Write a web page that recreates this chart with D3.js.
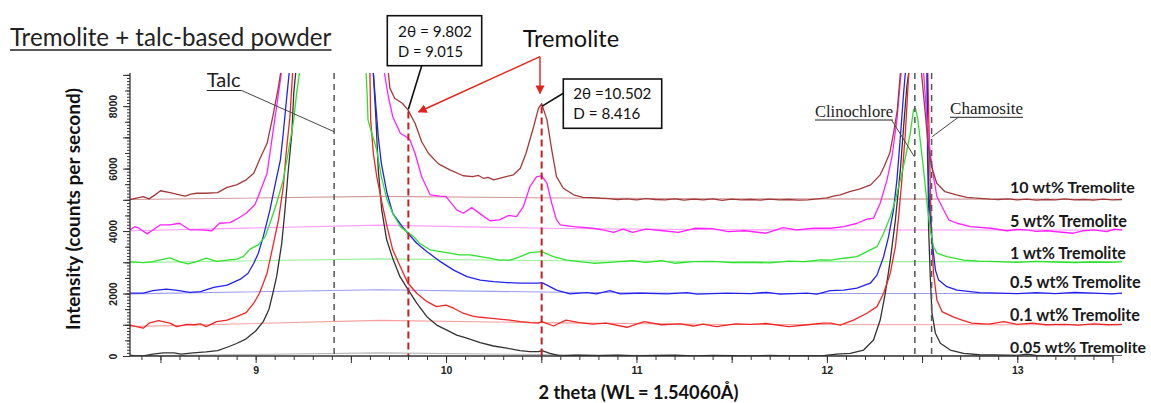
<!DOCTYPE html>
<html><head><meta charset="utf-8">
<script src="https://cdn.jsdelivr.net/npm/d3@7"></script>
<style>body{margin:0;background:#fff}svg{display:block}</style>
</head><body><svg id="c" width="1151" height="403"></svg>
<script>
// ---------------- DATA ----------------
const seriesLabels = ["10 wt% Tremolite","5 wt% Tremolite","1 wt% Tremolite","0.5 wt% Tremolite","0.1 wt% Tremolite","0.05 wt% Tremolite"];
const tw10 = [[8.34,5010],[8.38,5060],[8.41,5100],[8.44,5030],[8.47,5150],[8.50,5290],[8.55,5230],[8.60,5160],[8.63,5120],[8.66,5180],[8.69,5210],[8.74,5210],[8.80,5230],[8.85,5400],[8.90,5480],[8.95,5640],[8.99,5850],[9.02,6280],[9.06,6810],[9.09,7660],[9.12,8630],[9.15,9800],[9.66,9800],[9.697,9060],[9.705,8575],[9.73,8250],[9.77,8090],[9.80,7880],[9.837,7450],[9.872,6860],[9.907,6490],[9.96,6150],[10.02,5960],[10.09,5770],[10.14,5740],[10.17,5780],[10.196,5690],[10.22,5720],[10.25,5640],[10.30,5720],[10.354,5800],[10.39,6010],[10.42,6490],[10.46,7340],[10.485,7930],[10.502,8080],[10.53,7560],[10.555,6600],[10.58,5740],[10.616,5370],[10.67,5160],[10.72,5080],[10.77,5070],[10.81,5050],[10.85,5040],[10.90,5010],[10.95,5030],[11.00,5000],[11.05,5040],[11.10,5010],[11.15,5000],[11.20,5030],[11.25,4990],[11.30,5020],[11.35,5000],[11.40,5030],[11.45,4980],[11.50,5020],[11.55,5000],[11.60,5010],[11.65,4990],[11.70,5020],[11.75,5000],[11.80,5010],[11.85,4990],[11.90,5000],[11.95,5030],[12.00,5060],[12.035,5120],[12.07,5160],[12.12,5260],[12.17,5340],[12.23,5480],[12.28,5800],[12.30,6060],[12.33,6490],[12.35,7130],[12.37,7880],[12.386,9060],[12.40,9800],[12.49,9800],[12.497,9060],[12.515,7880],[12.533,6700],[12.55,6060],[12.577,5530],[12.62,5260],[12.68,5160],[12.735,5080],[12.77,5060],[12.82,5040],[12.86,5020],[12.90,5010],[12.95,5030],[13.00,5000],[13.05,5020],[13.10,4990],[13.15,5010],[13.20,5000],[13.25,5030],[13.30,5000],[13.35,5010],[13.40,4990],[13.45,5020],[13.50,5000],[13.55,5010]];
const tw5 = [[8.34,4035],[8.365,4140],[8.385,4100],[8.43,3910],[8.46,4035],[8.50,4200],[8.55,4200],[8.60,4250],[8.655,4035],[8.71,4035],[8.77,4010],[8.81,4250],[8.865,4270],[8.90,4380],[8.95,4570],[8.996,4840],[9.02,5210],[9.06,5850],[9.08,6700],[9.10,7560],[9.12,8410],[9.135,9060],[9.15,9800],[9.66,9800],[9.676,9060],[9.697,8300],[9.72,7660],[9.76,7130],[9.79,7020],[9.81,6920],[9.837,6490],[9.872,5740],[9.916,5160],[9.968,5120],[10.0,5100],[10.056,4680],[10.09,4570],[10.135,4750],[10.18,4550],[10.23,4330],[10.28,4360],[10.33,4500],[10.37,4460],[10.406,4780],[10.44,5420],[10.476,5740],[10.503,5770],[10.53,5530],[10.555,4890],[10.58,4360],[10.60,4200],[10.67,4140],[10.77,4090],[10.83,4030],[10.88,3960],[10.93,4060],[10.98,3960],[11.05,4060],[11.14,4010],[11.22,3960],[11.31,4090],[11.40,4080],[11.48,3980],[11.57,4010],[11.68,3930],[11.77,4110],[11.84,4035],[11.93,4090],[12.02,4090],[12.09,4140],[12.16,4250],[12.21,4380],[12.245,4410],[12.28,4890],[12.316,5640],[12.342,6380],[12.368,7560],[12.386,8840],[12.39,9060],[12.40,9800],[12.50,9800],[12.508,9060],[12.526,7560],[12.543,6490],[12.56,5740],[12.578,5100],[12.605,4780],[12.64,4360],[12.684,4250],[12.754,4140],[12.86,4090],[12.946,4010],[13.0,4050],[13.05,4035],[13.1,3990],[13.157,4010],[13.22,3970],[13.296,3930],[13.35,4010],[13.4,4035],[13.47,3980],[13.51,4060],[13.55,4035]];
const tw1 = [[8.34,3020],[8.41,2990],[8.46,3020],[8.50,3080],[8.55,3140],[8.60,3020],[8.645,2950],[8.69,3020],[8.74,3130],[8.795,3030],[8.85,3070],[8.90,3100],[8.935,3180],[8.97,3420],[9.014,3560],[9.05,3820],[9.075,4250],[9.11,4890],[9.145,5640],[9.17,6490],[9.20,7560],[9.215,8410],[9.23,9060],[9.24,9800],[9.57,9800],[9.58,9060],[9.586,8300],[9.59,7560],[9.61,7130],[9.636,6600],[9.66,5740],[9.69,5000],[9.72,4570],[9.76,4140],[9.80,3950],[9.83,3820],[9.86,3610],[9.916,3400],[9.97,3340],[10.02,3290],[10.07,3240],[10.126,3240],[10.18,3180],[10.23,3130],[10.28,3070],[10.336,3070],[10.39,3180],[10.44,3310],[10.503,3340],[10.564,3180],[10.634,3070],[10.70,3020],[10.774,2970],[10.84,2990],[10.915,3020],[10.98,3050],[11.05,3000],[11.13,3050],[11.2,2970],[11.3,3020],[11.4,3030],[11.5,2990],[11.6,3000],[11.7,2980],[11.8,3040],[11.88,3020],[11.97,3080],[12.02,3070],[12.088,3130],[12.158,3180],[12.21,3340],[12.263,3500],[12.298,3930],[12.333,4460],[12.36,5000],[12.386,5640],[12.41,6280],[12.438,7130],[12.455,7880],[12.465,7930],[12.477,7610],[12.49,6920],[12.508,5960],[12.526,4890],[12.543,4035],[12.56,3500],[12.578,3290],[12.63,3180],[12.72,3070],[12.8,3040],[12.9,3020],[13.0,3000],[13.1,3030],[13.2,3010],[13.3,2990],[13.4,3010],[13.5,3000],[13.55,3020]];
const tw05 = [[8.34,2010],[8.41,2010],[8.46,2090],[8.53,2140],[8.58,2110],[8.655,2040],[8.71,2060],[8.78,2200],[8.85,2270],[8.92,2460],[8.96,2650],[8.99,2970],[9.014,3290],[9.04,3820],[9.075,4680],[9.10,5420],[9.13,6280],[9.145,7130],[9.16,8090],[9.176,9060],[9.19,9800],[9.61,9800],[9.618,9060],[9.63,8090],[9.644,7020],[9.66,6170],[9.69,5210],[9.72,4570],[9.77,4140],[9.80,3930],[9.846,3610],[9.9,3340],[9.97,3020],[10.04,2750],[10.11,2540],[10.18,2430],[10.25,2380],[10.32,2350],[10.39,2330],[10.45,2330],[10.485,2330],[10.503,2350],[10.53,2270],[10.58,2110],[10.65,1990],[10.74,2030],[10.79,1990],[10.86,2090],[10.915,1990],[11.02,2010],[11.16,1990],[11.265,2030],[11.317,1980],[11.475,2010],[11.6,2000],[11.685,2040],[11.755,1980],[11.895,2010],[11.948,1980],[12.018,2090],[12.088,2110],[12.158,2170],[12.228,2330],[12.263,2590],[12.298,3180],[12.324,3820],[12.35,4680],[12.368,5640],[12.386,7020],[12.403,8410],[12.412,9060],[12.42,9800],[12.52,9800],[12.526,9060],[12.529,6280],[12.54,4680],[12.552,3720],[12.57,2750],[12.587,2430],[12.63,2220],[12.684,2110],[12.8,2030],[12.9,2010],[13.0,2000],[13.1,2030],[13.2,2000],[13.3,2040],[13.4,2010],[13.5,1990],[13.55,2010]];
const tw01 = [[8.34,990],[8.41,890],[8.44,1050],[8.49,1130],[8.55,1050],[8.585,940],[8.64,1010],[8.68,1000],[8.71,1030],[8.74,940],[8.795,1100],[8.85,1150],[8.90,1260],[8.95,1390],[8.99,1690],[9.02,2010],[9.06,2650],[9.09,3500],[9.12,4360],[9.145,5420],[9.16,6490],[9.18,7660],[9.194,9060],[9.2,9800],[9.595,9800],[9.6,9060],[9.604,7560],[9.618,6490],[9.636,5740],[9.66,5000],[9.69,4140],[9.72,3400],[9.76,2860],[9.80,2330],[9.846,2010],[9.9,1740],[9.95,1580],[10.0,1630],[10.04,1530],[10.09,1370],[10.14,1280],[10.18,1240],[10.23,1210],[10.28,1180],[10.336,1150],[10.39,1100],[10.44,1070],[10.485,1050],[10.503,1100],[10.564,960],[10.63,1150],[10.70,1070],[10.77,1020],[10.84,1050],[10.95,920],[11.04,1100],[11.13,1000],[11.23,1030],[11.3,960],[11.35,1020],[11.42,940],[11.52,1030],[11.6,1010],[11.68,1040],[11.8,940],[11.9,1000],[11.98,1050],[12.02,1050],[12.07,990],[12.14,1150],[12.21,1370],[12.263,1580],[12.298,2010],[12.333,2650],[12.36,3500],[12.377,4460],[12.394,5640],[12.412,7130],[12.424,8410],[12.43,9060],[12.44,9800],[12.52,9800],[12.53,9060],[12.54,6280],[12.548,4140],[12.56,2650],[12.578,1790],[12.605,1420],[12.66,1260],[12.71,1150],[12.76,1050],[12.85,1020],[12.93,1100],[13.0,1010],[13.08,1050],[13.15,1000],[13.25,1010],[13.32,990],[13.4,1030],[13.48,1000],[13.55,1010]];
const tw005 = [[8.34,30],[8.37,0],[8.41,0],[8.46,60],[8.515,100],[8.57,100],[8.61,60],[8.67,100],[8.74,130],[8.80,170],[8.85,280],[8.90,400],[8.95,550],[9.00,800],[9.04,1100],[9.07,1500],[9.09,2000],[9.11,2540],[9.137,3610],[9.154,4680],[9.17,5850],[9.19,7130],[9.20,8410],[9.21,9060],[9.22,9800],[9.61,9800],[9.618,9060],[9.632,7560],[9.644,5960],[9.662,4680],[9.688,3720],[9.723,3070],[9.758,2540],[9.802,2110],[9.846,1690],[9.899,1260],[9.951,990],[10.004,830],[10.056,670],[10.109,570],[10.179,430],[10.249,320],[10.319,250],[10.389,170],[10.44,140],[10.485,140],[10.503,170],[10.546,85],[10.6,0],[10.687,30],[10.8,10],[10.9,30],[11.0,0],[11.1,20],[11.2,30],[11.3,0],[11.4,20],[11.5,10],[11.6,0],[11.7,20],[11.8,0],[11.9,10],[11.97,0],[12.05,60],[12.123,85],[12.193,190],[12.245,510],[12.28,1150],[12.307,2010],[12.333,3070],[12.36,4360],[12.386,5960],[12.403,7340],[12.42,8630],[12.43,9060],[12.44,9800],[12.52,9800],[12.527,9060],[12.534,4140],[12.543,2540],[12.552,1370],[12.57,730],[12.596,410],[12.648,190],[12.718,85],[12.8,40],[12.946,30],[13.0,20],[13.05,60],[13.1,20],[13.2,10],[13.3,0],[13.4,20],[13.5,0],[13.55,0]];
// background (baseline) lines per series
const baseX = [8.34, 9.65, 10.6, 11.5, 13.55];
const base10 = [5010, 5110, 5060, 5030, 5020];
const base5 = [4010, 4190, 4080, 4040, 4030];
const base1 = [2990, 3110, 3050, 3020, 3020];
const base05 = [1990, 2120, 2040, 2000, 2000];
const base01 = [940, 1140, 1060, 1010, 1000];
const base005 = [0, 100, 40, 10, 0];
const xTickLabels = [9, 10, 11, 12, 13];
const yTickLabels = [0, 2000, 4000, 6000, 8000];
const talcPos = [9.412];
const chloritePos = [12.462, 12.55];
const tremolitePeaks = [9.802, 10.502];
const tremolitePeakTops = [7830, 7990];

// ---------------- DRAW ----------------
const svg = d3.select("#c");
const W = 1151, H = 403;
const x = d3.scaleLinear().domain([8.34, 13.55]).range([130, 1122]);
const y = d3.scaleLinear().domain([0, 9060]).range([356, 73]);
const SANS = "Lato, 'Open Sans', 'DejaVu Sans', sans-serif";
const ARIAL = "'Liberation Sans', Arial, sans-serif";
const SERIF = "'Liberation Serif', 'DejaVu Serif', serif";

const defs = svg.append("defs");
defs.append("clipPath").attr("id","clip").append("rect")
  .attr("x", x.range()[0]).attr("y", y.range()[1])
  .attr("width", x.range()[1]-x.range()[0]).attr("height", y.range()[0]-y.range()[1]);
defs.append("marker").attr("id","arr").attr("viewBox","0 0 10 10").attr("refX",9).attr("refY",5)
  .attr("markerWidth",9).attr("markerHeight",9).attr("markerUnits","userSpaceOnUse").attr("orient","auto")
  .append("path").attr("d","M0,0 L10,5 L0,10 z").attr("fill","#e8201c");

function fit(sel, w){
  const l = sel.node().getComputedTextLength();
  const fs = parseFloat(sel.attr("font-size"));
  sel.attr("font-size", (fs*w/l).toFixed(2));
  return sel;
}

const series = [
  {d: tw10, b: base10, c: "#a33a3a", lc: "#cf9a9a"},
  {d: tw5, b: base5, c: "#ff22ff", lc: "#ff9cff"},
  {d: tw1, b: base1, c: "#2ee02e", lc: "#9cf09c"},
  {d: tw05, b: base05, c: "#2222ee", lc: "#9c9cf2"},
  {d: tw01, b: base01, c: "#ee2626", lc: "#f5a0a0"},
  {d: tw005, b: base005, c: "#333333", lc: "#b8b8b8"}
];
const line = d3.line().x(d=>x(d[0])).y(d=>y(d[1]));
const plot = svg.append("g").attr("clip-path","url(#clip)");
series.forEach(s => {
  plot.append("path").datum(baseX.map((bx,i)=>[bx, s.b[i]])).attr("d", line)
    .attr("fill","none").attr("stroke", s.lc).attr("stroke-width", 1.1);
});
series.slice().reverse().forEach(s => {
  plot.append("path").datum(s.d).attr("d", line)
    .attr("fill","none").attr("stroke", s.c).attr("stroke-width", 1.3).attr("stroke-linejoin","round");
});

// reference dashed lines
plot.selectAll(".ref").data(talcPos.concat(chloritePos)).enter().append("line")
  .attr("x1", d=>x(d)).attr("x2", d=>x(d)).attr("y1", y.range()[1]).attr("y2", y.range()[0])
  .attr("stroke","#555").attr("stroke-width",1.5).attr("stroke-dasharray","6,5");
svg.selectAll(".trem").data(tremolitePeaks).enter().append("line")
  .attr("x1", d=>x(d)).attr("x2", d=>x(d)).attr("y1", (d,i)=>y(tremolitePeakTops[i])).attr("y2", y.range()[0])
  .attr("stroke","#c81e1e").attr("stroke-width",2).attr("stroke-dasharray","7,4");

// axes
const axisCol = "#333";
const xAx = svg.append("g");
[[d3.range(84,136).map(v=>v/10), 4], [d3.range(17,28).map(v=>v/2), 7]].forEach(([vals, len]) => {
  const a = svg.append("g").attr("transform",`translate(0,${y.range()[0]})`)
    .call(d3.axisBottom(x).tickValues(vals).tickSize(len).tickFormat(""));
  a.select(".domain").remove();
  a.selectAll("line").attr("stroke", axisCol);
});
svg.append("line").attr("x1", x(8.34)).attr("x2", x(13.5)).attr("y1", y.range()[0]).attr("y2", y.range()[0])
  .attr("stroke", axisCol).attr("stroke-width",1.3);
const xl = svg.append("g").attr("transform",`translate(0,${y.range()[0]})`)
  .call(d3.axisBottom(x).tickValues(xTickLabels).tickSize(0).tickPadding(11).tickFormat(d3.format("d")));
xl.select(".domain").remove();
xl.selectAll("text").attr("font-family", ARIAL).attr("font-weight","bold").attr("font-size",10.5).attr("fill","#222");

[[d3.range(0,9001,100), 3], [d3.range(0,9001,500), 5], [d3.range(0,9001,1000), 7]].forEach(([vals, len]) => {
  const a = svg.append("g").attr("transform",`translate(${x.range()[0]},0)`)
    .call(d3.axisLeft(y).tickValues(vals).tickSize(len).tickFormat(""));
  a.select(".domain").remove();
  a.selectAll("line").attr("stroke", axisCol);
});
svg.append("line").attr("x1", x.range()[0]).attr("x2", x.range()[0]).attr("y1", y.range()[1]).attr("y2", y.range()[0])
  .attr("stroke", axisCol).attr("stroke-width",1.3);
const yl = svg.append("g").attr("transform",`translate(${x.range()[0]},0)`)
  .call(d3.axisLeft(y).tickValues(yTickLabels).tickSize(0).tickFormat(d3.format("d")));
yl.select(".domain").remove();
yl.selectAll("text").attr("transform","rotate(-90)").attr("x",0).attr("y",-17).attr("dy",null)
  .attr("dominant-baseline","central").attr("text-anchor","middle")
  .attr("font-family", ARIAL).attr("font-weight","bold").attr("font-size",10.5).attr("fill","#222");

// axis titles
const yt = svg.append("text").attr("transform","translate(72,209) rotate(-90)")
  .attr("text-anchor","middle").attr("dominant-baseline","central")
  .attr("font-family", SANS).attr("font-weight","bold").attr("font-size",18).attr("fill","#111")
  .text("Intensity (counts per second)");
fit(yt, 242);
const xt = svg.append("text").attr("x",638.5).attr("y",399).attr("text-anchor","middle")
  .attr("font-family", SANS).attr("font-weight","bold").attr("font-size",18).attr("fill","#111")
  .text("2 theta (WL = 1.54060\u00C5)");
fit(xt, 200);

// title
const tt = svg.append("text").attr("x",10).attr("y",45.7).attr("font-family",SANS).attr("font-size",24).attr("fill","#222")
  .text("Tremolite + talc-based powder");
fit(tt, 321.5);
svg.append("line").attr("x1",10).attr("x2",331.5).attr("y1",50).attr("y2",50).attr("stroke","#222").attr("stroke-width",1.5);

// series labels
const labY = [186.7, 220, 252.7, 281.7, 314, 346.7];
const labW = [125, 117, 116, 131, 130, 136];
seriesLabels.forEach((t,i) => {
  const s = svg.append("text").attr("x",1010).attr("y",labY[i]).attr("dominant-baseline","central")
    .attr("font-family",SANS).attr("font-weight","bold").attr("font-size",15).attr("fill","#1a1a1a").text(t);
  fit(s, labW[i]);
});

// Talc label
const talc = svg.append("text").attr("x",206.7).attr("y",87.3).attr("font-family",SANS).attr("font-size",18).attr("fill","#222").text("Talc");
fit(talc, 34);
svg.append("line").attr("x1",206.7).attr("x2",241.7).attr("y1",90.5).attr("y2",90.5).attr("stroke","#222").attr("stroke-width",1.2);
svg.append("line").attr("x1",241.7).attr("y1",90.5).attr("x2",x(talcPos[0])).attr("y2",131.7).attr("stroke","#444").attr("stroke-width",1);

// Tremolite label and arrows
const tr = svg.append("text").attr("x",522.7).attr("y",46.7).attr("font-family",SANS).attr("font-size",22).attr("fill","#111").text("Tremolite");
fit(tr, 96.5);
svg.append("line").attr("x1",540).attr("y1",56.7).attr("x2",418.5).attr("y2",112).attr("stroke","#e8201c").attr("stroke-width",1.4).attr("marker-end","url(#arr)");
svg.append("line").attr("x1",540).attr("y1",56.7).attr("x2",540).attr("y2",93.5).attr("stroke","#e8201c").attr("stroke-width",1.4).attr("marker-end","url(#arr)");

// annotation boxes
function box(x0,y0,w,h,l1,l2,tx,b1,b2,w1,w2){
  svg.append("rect").attr("x",x0).attr("y",y0).attr("width",w).attr("height",h).attr("fill","#fff").attr("stroke","#111").attr("stroke-width",1.6);
  const t1 = svg.append("text").attr("x",tx).attr("y",b1).attr("font-family",SANS).attr("font-size",17).attr("fill","#111").text(l1);
  fit(t1, w1);
  const t2 = svg.append("text").attr("x",tx).attr("y",b2).attr("font-family",SANS).attr("font-size",17).attr("fill","#111").text(l2);
  fit(t2, w2);
}
box(387.3,15.7,94.4,50,"2\u03B8 = 9.802","D = 9.015",398,37.3,56.7,74,65);
box(563.3,79,98.4,49.3,"2\u03B8 =10.502","D = 8.416",573.3,99,119,78,67);
svg.append("line").attr("x1",421.7).attr("y1",65.7).attr("x2",x(tremolitePeaks[0])).attr("y2",y(7900)).attr("stroke","#111").attr("stroke-width",1.6);
svg.append("line").attr("x1",563.3).attr("y1",93.3).attr("x2",x(tremolitePeaks[1])+0.5).attr("y2",y(8000)).attr("stroke","#111").attr("stroke-width",1.6);

// Clinochlore / Chamosite
const cl = svg.append("text").attr("x",893).attr("y",117).attr("text-anchor","end").attr("font-family",SERIF).attr("font-size",16).attr("fill","#222").text("Clinochlore");
fit(cl, 78);
svg.append("line").attr("x1",815).attr("x2",893).attr("y1",120).attr("y2",120).attr("stroke","#222").attr("stroke-width",1);
svg.append("line").attr("x1",891.7).attr("y1",120).attr("x2",x(chloritePos[0])-0.5).attr("y2",156.7).attr("stroke","#444").attr("stroke-width",1);
const ch = svg.append("text").attr("x",950).attr("y",114.3).attr("font-family",SERIF).attr("font-size",16).attr("fill","#222").text("Chamosite");
fit(ch, 73);
svg.append("line").attr("x1",950).attr("x2",1023).attr("y1",117.3).attr("y2",117.3).attr("stroke","#222").attr("stroke-width",1);
svg.append("line").attr("x1",958.3).attr("y1",117.3).attr("x2",x(chloritePos[1])+0.5).attr("y2",136.7).attr("stroke","#444").attr("stroke-width",1);
</script>
</body></html>
